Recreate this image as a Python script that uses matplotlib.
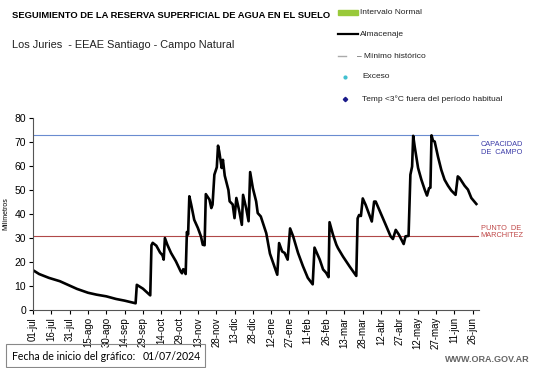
import matplotlib
matplotlib.use("Agg")
import matplotlib.pyplot as plt
from matplotlib.patches import Rectangle

plt.rcParams['font.family'] = ['Liberation Sans', 'DejaVu Sans']

# --- Datos (días desde 01/07/2024, mm) ---
DIAS = [0, 5, 13, 22, 30, 36, 45, 52, 60, 68, 75, 84, 85, 90, 96, 97, 98, 101, 104, 106,
        107, 108, 110, 113, 117, 121, 122, 123, 124, 125, 126, 127, 128, 129.5, 132, 135,
        137.5, 139, 140.5, 141.5, 144.5, 146, 147, 148.5, 150.5, 151.5, 152.5, 154.5,
        155.5, 157, 160, 161, 163.5, 165, 166.5, 169, 171, 172, 174.5, 176.5, 177.8, 180,
        182.7, 184, 186.5, 191, 194, 200, 201.5, 204, 206, 208.5, 210.5, 213, 217, 221,
        225, 229, 230.5, 234.8, 237.5, 240, 242, 242.8, 245.6, 248.4, 249.7, 253.8, 259.3,
        264.7, 265.8, 267, 268.5, 270, 272.4, 277.4, 279.3, 280.6, 284.7, 288.8, 292.8,
        294.7, 297, 299.6, 303.5, 305, 307.5, 309, 310.4, 311.3, 312.5, 315.3, 318, 320.7,
        322.6, 324.3, 325.4, 326.3, 327.5, 328.9, 331.6, 334.3, 337, 339.8, 342.5, 346,
        347.8, 349.3, 353.4, 356.1, 358.9, 363]
ALMACENAJE = [16.6, 15.0, 13.4, 12.0, 10.2, 8.8, 7.2, 6.4, 5.7, 4.6, 3.9, 2.8, 10.5, 8.9,
              6.1, 27.0, 28.0, 26.8, 24.0, 22.8, 21.0, 30.0, 27.2, 23.8, 20.3, 16.0, 15.3,
              17.0, 16.5, 15.0, 32.5, 31.5, 47.4, 44.0, 37.6, 34.2, 30.7, 27.2, 27.0, 48.3,
              46.0, 42.5, 43.9, 56.4, 59.5, 68.5, 66.0, 59.2, 62.6, 56.0, 50.0, 45.3, 44.0,
              38.3, 46.7, 41.0, 35.5, 48.0, 42.5, 37.0, 57.5, 50.8, 45.3, 40.4, 39.0, 32.0,
              23.5, 14.7, 27.9, 24.4, 23.8, 21.0, 34.0, 30.7, 23.8, 18.3, 13.4, 10.7, 26.0,
              21.0, 16.9, 15.5, 13.7, 36.6, 31.4, 27.2, 25.8, 22.3, 18.1, 14.2, 38.2, 39.6,
              39.2, 46.5, 43.8, 36.9, 45.2, 45.2, 40.4, 35.5, 30.7, 29.6, 33.4, 31.4, 27.5,
              30.7, 30.9, 56.4, 59.8, 72.6, 68.2, 59.2, 54.3, 50.2, 47.7, 50.8, 51.0, 72.8,
              70.6, 70.2, 63.9, 58.4, 54.3, 51.8, 49.8, 48.0, 55.7, 55.0, 51.8, 50.2, 46.7,
              44.2]
CAPACIDAD_CAMPO = 72.8
PUNTO_MARCHITEZ = 31.0
TICK_DIAS = list(range(0, 361, 15))
TICK_LABELS = ["01-jul", "16-jul", "31-jul", "15-ago", "30-ago", "14-sep", "29-sep",
               "14-oct", "29-oct", "13-nov", "28-nov", "13-dic", "28-dic", "12-ene",
               "27-ene", "11-feb", "26-feb", "13-mar", "28-mar", "12-abr", "27-abr",
               "12-may", "27-may", "11-jun", "26-jun"]

fig = plt.figure(figsize=(5.41, 3.68), dpi=100)
ax = fig.add_axes([0.061, 0.1576, 0.824, 0.5215])

ax.axhline(CAPACIDAD_CAMPO, color='#6a8cd0', lw=0.8)
ax.axhline(PUNTO_MARCHITEZ, color='#b04848', lw=0.8)
ax.plot(DIAS, ALMACENAJE, color='black', lw=1.9, solid_joinstyle='round')

ax.set_xlim(0, 365)
ax.set_ylim(0, 80)
ax.set_yticks(range(0, 81, 10))
ax.set_xticks(TICK_DIAS)
ax.set_xticklabels(TICK_LABELS, rotation=90, fontsize=7)
ax.tick_params(axis='y', labelsize=7.5, length=3, pad=2)
ax.tick_params(axis='x', length=3, pad=2)
ax.set_ylabel("Milímetros", fontsize=5, labelpad=4)
for s in ['top', 'right']:
    ax.spines[s].set_visible(False)
for s in ['left', 'bottom']:
    ax.spines[s].set_color('#555555')

ax.text(1.004, (CAPACIDAD_CAMPO - 5.5) / 80, "CAPACIDAD\nDE  CAMPO", transform=ax.transAxes,
        fontsize=5.3, color='#3c3ca8', va='center', ha='left', linespacing=1.1)
ax.text(1.004, (PUNTO_MARCHITEZ + 1.5) / 80, "PUNTO  DE\nMARCHITEZ", transform=ax.transAxes,
        fontsize=5.3, color='#c04848', va='center', ha='left', linespacing=1.1)

# --- Títulos ---
fig.text(12 / 541, 1 - 16 / 368, "SEGUIMIENTO DE LA RESERVA SUPERFICIAL DE AGUA EN EL SUELO",
         fontsize=6.75, fontweight='bold', va='center')
fig.text(12 / 541, 1 - 45 / 368, "Los Juries  - EEAE Santiago - Campo Natural",
         fontsize=7.9, va='center', color='#222222')

# --- Leyenda ---
lx = 338 / 541
fig.patches.append(Rectangle((lx, 1 - 15 / 368), 20 / 541, 5 / 368, transform=fig.transFigure,
                             color='#99c93a'))
fig.lines.append(plt.Line2D([lx, lx + 20 / 541], [1 - 34 / 368] * 2, transform=fig.transFigure,
                            color='black', lw=1.6))
fig.lines.append(plt.Line2D([lx, lx + 8 / 541], [1 - 56 / 368] * 2, transform=fig.transFigure,
                            color='#aaaaaa', lw=1))
fig.lines.append(plt.Line2D([345 / 541], [1 - 77 / 368], transform=fig.transFigure,
                            marker='o', ms=2, color='#40c0d0', ls='none'))
fig.lines.append(plt.Line2D([345 / 541], [1 - 99 / 368], transform=fig.transFigure,
                            marker='D', ms=2.2, color='#1a1a8a', ls='none'))
etiquetas = [(360, 12, "Intervalo Normal"), (360, 34, "Almacenaje"),
             (357, 56, "– Mínimo histórico"), (362, 77, "Exceso"),
             (362, 99, "Temp <3°C fuera del período habitual")]
for x, y, t in etiquetas:
    fig.text(x / 541, 1 - y / 368, t, fontsize=6, va='center', color='#222222')

# --- Pie ---
fig.patches.append(Rectangle((6 / 541, 0.002), 199 / 541, 23 / 368, transform=fig.transFigure,
                             fill=False, edgecolor='#888888', lw=0.8))
fig.text(12 / 541, 1 - 356 / 368, "Fecha de inicio del gráfico:", fontsize=7.6,
         family=['Lato', 'DejaVu Sans'], va='center')
fig.text(143 / 541, 1 - 356 / 368, "01/07/2024", fontsize=7.6,
         family=['Lato', 'DejaVu Sans'], va='center')
fig.text(530 / 541, 1 - 359 / 368, "WWW.ORA.GOV.AR", fontsize=6.5, fontweight='bold',
         color='#666666', ha='right', va='center')

fig.savefig("out.png", dpi=100)
